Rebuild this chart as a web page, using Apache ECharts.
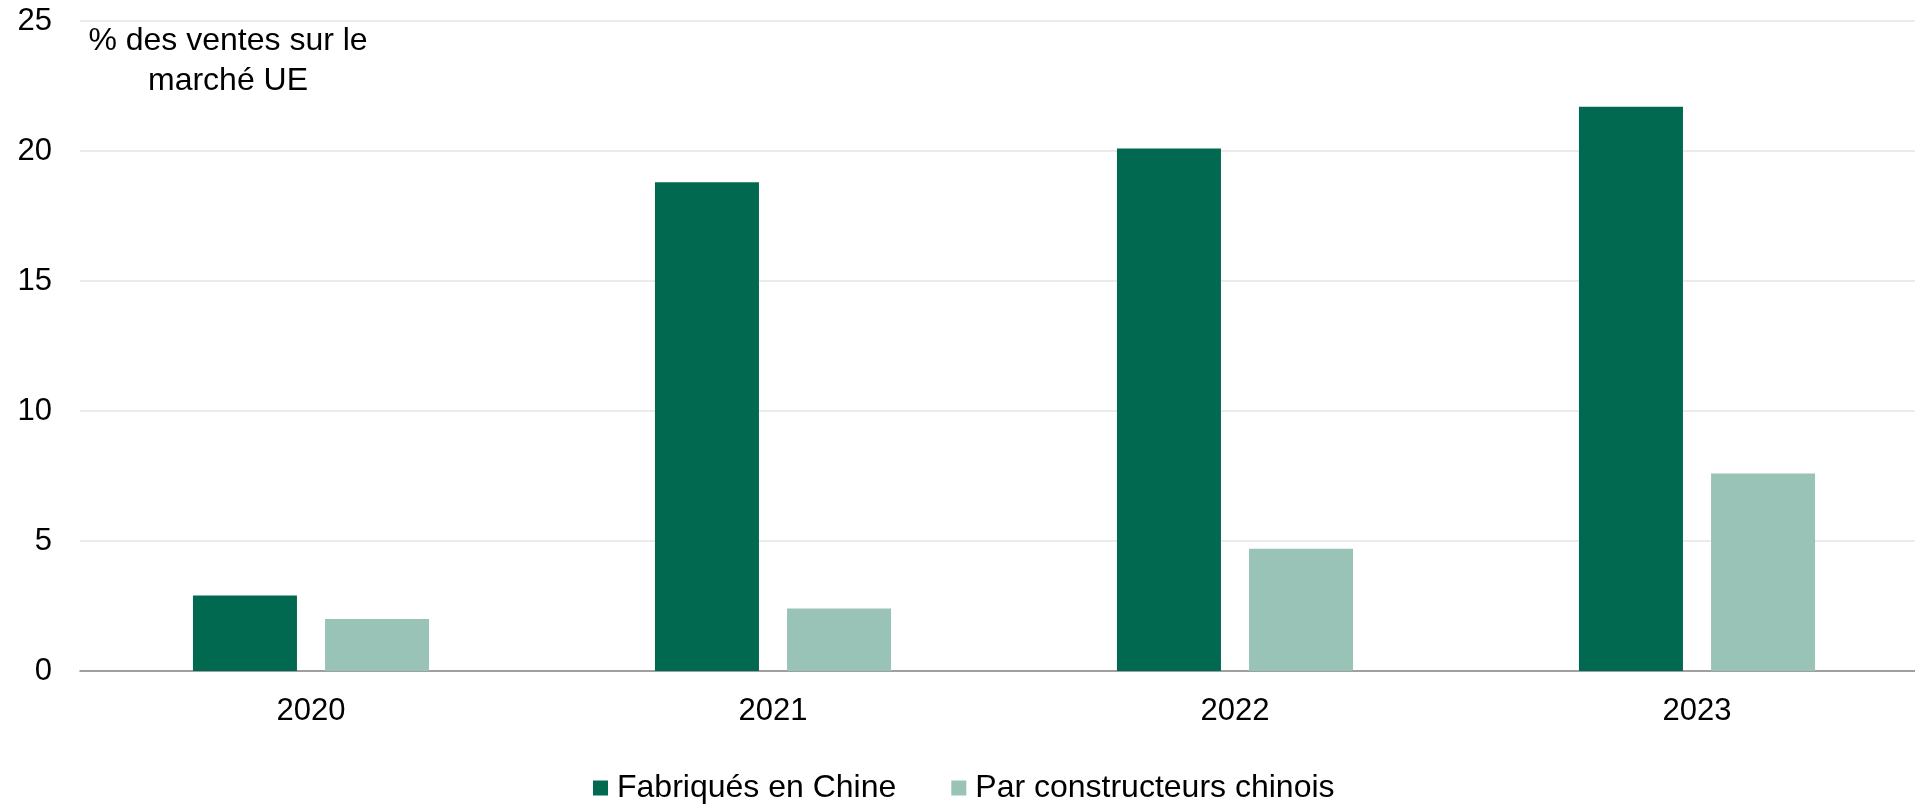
<!DOCTYPE html>
<html>
<head>
<meta charset="utf-8">
<script src="https://cdn.jsdelivr.net/npm/echarts@6/dist/echarts.min.js"></script>
<style>
html,body{margin:0;padding:0;background:#fff;overflow:hidden;width:1915px;height:806px;}
#c{width:1928px;height:806px;}
</style>
</head>
<body>
<div id="c"></div>
<script>
const categories = ['2020', '2021', '2022', '2023'];
const seriesNames = ['Fabriqués en Chine', 'Par constructeurs chinois'];
const fabriquesEnChine = [2.9, 18.8, 20.1, 21.7];
const parConstructeursChinois = [2.0, 2.4, 4.7, 7.6];
const yTicks = { min: 0, max: 25, interval: 5 };
const yTitle = '% des ventes sur le\nmarché UE';

const FONT = "'Liberation Sans', Arial, Helvetica, sans-serif";
const chart = echarts.init(document.getElementById('c'), null, { renderer: 'canvas' });
chart.setOption({
  animation: false,
  backgroundColor: '#ffffff',
  textStyle: { fontFamily: FONT },
  grid: { left: 80, top: 21, right: 0, bottom: 135, containLabel: false },
  legend: {
    data: seriesNames,
    left: 593,
    top: 772,
    padding: 0,
    icon: 'rect',
    itemWidth: 15,
    itemHeight: 15,
    itemGap: 55,
    textStyle: { fontFamily: FONT, fontSize: 32, color: '#000', padding: [0, 0, 0, 4] }
  },
  graphic: [{
    type: 'text',
    x: 228,
    y: 21,
    style: {
      text: yTitle,
      fontFamily: FONT,
      fontSize: 32,
      lineHeight: 40,
      fill: '#000',
      align: 'center',
      verticalAlign: 'top'
    }
  }],
  xAxis: {
    type: 'category',
    data: categories,
    axisLine: { show: true, lineStyle: { color: '#868686', width: 1.5 } },
    axisTick: { show: false },
    axisLabel: { color: '#000', fontFamily: FONT, fontSize: 31, margin: 25 }
  },
  yAxis: {
    type: 'value',
    min: yTicks.min,
    max: yTicks.max,
    interval: yTicks.interval,
    axisLine: { show: false },
    axisTick: { show: false },
    axisLabel: { color: '#000', fontFamily: FONT, fontSize: 31, margin: 28 },
    splitLine: { lineStyle: { color: '#e4e4e4', width: 1.5 } }
  },
  series: [
    {
      name: seriesNames[0],
      type: 'bar',
      data: fabriquesEnChine,
      barWidth: 104,
      barGap: '27%',
      itemStyle: { color: '#00694F' }
    },
    {
      name: seriesNames[1],
      type: 'bar',
      data: parConstructeursChinois,
      barWidth: 104,
      barGap: '27%',
      itemStyle: { color: '#9AC3B8' }
    }
  ]
});
</script>
</body>
</html>
